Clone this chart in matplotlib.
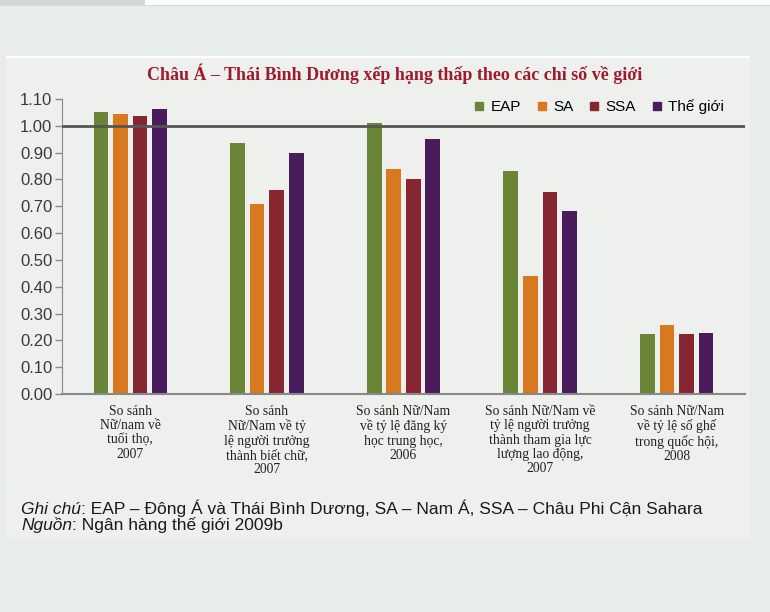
import matplotlib
matplotlib.use("Agg")
import matplotlib.pyplot as plt
import numpy as np
from matplotlib.patches import Rectangle, FancyBboxPatch
from matplotlib.lines import Line2D

categories = [
    "So sánh\nNữ/nam về\ntuổi thọ,\n2007",
    "So sánh\nNữ/Nam về tỷ\nlệ người trưởng\nthành biết chữ,\n2007",
    "So sánh Nữ/Nam\nvề tỷ lệ đăng ký\nhọc trung học,\n2006",
    "So sánh Nữ/Nam về\ntỷ lệ người trưởng\nthành tham gia lực\nlượng lao động,\n2007",
    "So sánh Nữ/Nam\nvề tỷ lệ số ghế\ntrong quốc hội,\n2008",
]
series_names = ["EAP", "SA", "SSA", "Thế giới"]
eap = [1.05, 0.935, 1.01, 0.83, 0.224]
sa = [1.045, 0.709, 0.838, 0.44, 0.257]
ssa = [1.037, 0.761, 0.80, 0.754, 0.224]
world = [1.063, 0.899, 0.95, 0.683, 0.226]
yticks = [0.0, 0.1, 0.2, 0.3, 0.4, 0.5, 0.6, 0.7, 0.8, 0.9, 1.0, 1.1]

colors = ["#6a8535", "#d8781f", "#862631", "#4b1c5b"]
title = "Châu Á – Thái Bình Dương xếp hạng thấp theo các chỉ số về giới"

W, H = 770, 612
fig = plt.figure(figsize=(W / 100, H / 100), dpi=100)
fig.patch.set_facecolor("#e9eced")

def fx(px):
    return px / W

def fy(py):
    return 1 - py / H

# top strip
fig.patches.append(Rectangle((0, fy(6)), 1, 6 / H, transform=fig.transFigure,
                             facecolor="#d6d6d6", edgecolor="none", zorder=0))
fig.patches.append(Rectangle((fx(145), fy(5)), 1 - fx(145), 5 / H, transform=fig.transFigure,
                             facecolor="#ffffff", edgecolor="none", zorder=0))
fig.patches.append(FancyBboxPatch((0, 0), 1, fy(8), transform=fig.transFigure,
                                  boxstyle="round,pad=0,rounding_size=0.02",
                                  facecolor="#e9eced", edgecolor="none", zorder=0.5))
# inner image
fig.patches.append(Rectangle((fx(6), fy(537)), fx(750) - fx(6), (537 - 57) / H,
                             transform=fig.transFigure, facecolor="#efefed",
                             edgecolor="none", zorder=1))
fig.patches.append(Rectangle((fx(6), fy(58)), fx(750) - fx(6), 2 / H,
                             transform=fig.transFigure, facecolor="#ffffff",
                             edgecolor="none", zorder=1.2))
fig.patches.append(Rectangle((fx(6), fy(490)), fx(750) - fx(6), (490 - 60) / H,
                             transform=fig.transFigure, facecolor="#eef0ee",
                             edgecolor="none", zorder=1.1))

ax = fig.add_axes([fx(62), fy(394), fx(745) - fx(62), (394 - 99) / H])
ax.set_facecolor("none")
ax.set_zorder(2)

x = np.arange(len(categories))
step = 0.143
width = 0.107
for i, (vals, c) in enumerate(zip([eap, sa, ssa, world], colors)):
    ax.bar(x + (i - 1.5) * step, vals, width=width, color=c, zorder=2)

ax.axhline(1.0, color="#555555", lw=2, zorder=3)
ax.set_xlim(-0.5, len(categories) - 0.5)
ax.set_ylim(0, 1.1)
ax.set_yticks(yticks)
ax.set_yticklabels([f"{v:.2f}" for v in yticks], fontsize=12,
                   family="Liberation Sans", color="#3a3a3a")
ax.tick_params(axis="y", direction="out", length=5, width=1, color="#888888", pad=2)
ax.set_xticks(x)
ax.set_xticklabels(categories, fontsize=9.8, family="Liberation Serif",
                   color="#222222", linespacing=1.12, va="top")
ax.tick_params(axis="x", length=0, pad=8)
for s in ["top", "right"]:
    ax.spines[s].set_visible(False)
ax.spines["left"].set_color("#888888")
ax.spines["bottom"].set_color("#888888")
ax.spines["bottom"].set_linewidth(1.5)

handles = [Line2D([], [], marker="s", ls="none", markersize=6, color=c) for c in colors]
leg = ax.legend(handles, series_names, loc="upper right", ncol=4, frameon=False,
                bbox_to_anchor=(fx(730), fy(93)), bbox_transform=fig.transFigure,
                prop={"family": "Liberation Sans", "size": 11},
                handlelength=0.7, handletextpad=0.4, columnspacing=1.0, borderaxespad=0)

fig.text(fx(395), fy(74), title, ha="center", va="center", fontsize=13,
         family="Liberation Serif", fontweight="bold", color="#a01a2e", zorder=5)

fs = 12.5
t1 = fig.text(fx(21), fy(514), "Ghi chú", ha="left", va="baseline", fontsize=fs,
              family="Liberation Sans", style="italic", color="#1a1a1a", zorder=5)
fig.canvas.draw()
r = fig.canvas.get_renderer()
bb = t1.get_window_extent(r)
fig.text(bb.x1 / W, fy(514), ": EAP – Đông Á và Thái Bình Dương, SA – Nam Á, SSA – Châu Phi Cận Sahara",
         ha="left", va="baseline", fontsize=fs, family="Liberation Sans", color="#1a1a1a", zorder=5)
t2 = fig.text(fx(21), fy(530), "Nguồn", ha="left", va="baseline", fontsize=fs,
              family="Liberation Sans", style="italic", color="#1a1a1a", zorder=5)
bb2 = t2.get_window_extent(r)
fig.text(bb2.x1 / W, fy(530), ": Ngân hàng thế giới 2009b", ha="left", va="baseline",
         fontsize=fs, family="Liberation Sans", color="#1a1a1a", zorder=5)

fig.savefig("out.png", dpi=100, facecolor=fig.get_facecolor())
